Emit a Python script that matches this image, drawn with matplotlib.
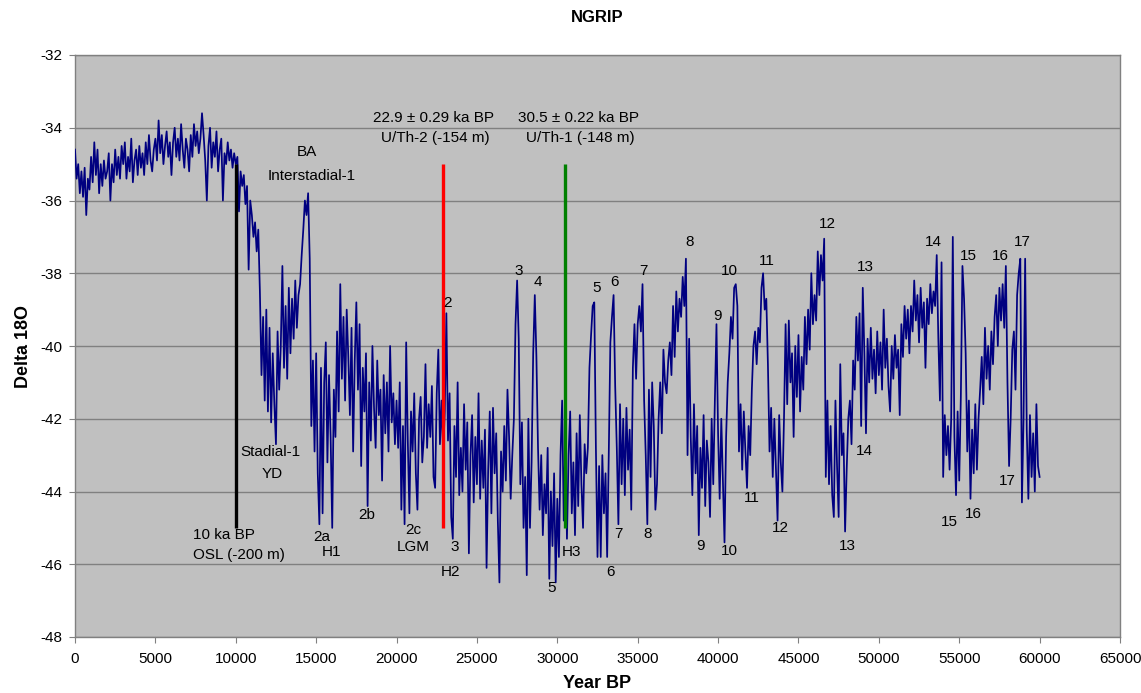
import numpy as np
import matplotlib
matplotlib.use('Agg')
import matplotlib.pyplot as plt

# NGRIP delta 18O, every 100 years from 0 to 60000 yr BP
year_start, year_end, year_step = 0, 60000, 100
delta_18o = [
    -34.6, -35.4, -35.0, -35.8, -35.2, -35.9, -35.1, -36.4, -35.4, -35.7,
    -34.8, -35.5, -34.4, -35.3, -34.6, -35.8, -35.0, -35.6, -34.9, -35.4,
    -35.2, -34.7, -36.0, -35.0, -35.5, -34.6, -35.3, -34.8, -35.4, -34.5,
    -35.0, -34.4, -35.4, -34.8, -35.2, -34.3, -35.5, -34.9, -34.6, -35.3,
    -34.5, -35.1, -34.7, -35.3, -34.4, -35.0, -34.2, -34.9, -35.2, -34.6,
    -34.3, -34.9, -33.8, -34.7, -34.2, -35.0, -34.5, -34.1, -34.8, -34.4,
    -35.3, -34.4, -34.0, -34.8, -34.3, -34.9, -33.9, -34.6, -35.1, -34.3,
    -34.6, -35.2, -34.2, -34.8, -33.9, -34.5, -34.1, -34.7, -34.3, -33.6,
    -34.2, -34.9, -36.0, -34.5, -34.0, -35.1, -34.4, -34.8, -34.1, -35.2,
    -34.6, -34.3, -36.0, -34.7, -35.0, -34.4, -34.9, -34.6, -35.1, -34.7,
    -35.0, -34.8, -36.3, -35.2, -35.6, -35.3, -36.1, -35.6, -37.9, -36.0,
    -36.4, -37.0, -36.6, -37.4, -36.8, -38.5, -40.8, -39.2, -41.5, -39.0,
    -41.8, -39.5, -42.1, -40.2, -41.6, -42.7, -39.6, -41.2, -40.0, -37.8,
    -40.6, -38.9, -40.9, -38.4, -40.2, -38.7, -39.8, -38.2, -39.5, -38.6,
    -38.3, -37.5, -36.8, -36.0, -36.4, -35.8, -37.6, -42.2, -40.4, -42.9,
    -40.2, -43.5, -44.9, -40.6, -44.6, -41.0, -39.9, -43.2, -40.8, -42.5,
    -45.0, -41.2, -42.5, -39.6, -41.8, -38.3, -40.9, -39.2, -41.5, -39.0,
    -40.3, -41.9, -39.5, -42.9, -40.4, -38.8, -41.2, -39.4, -43.3, -40.6,
    -41.8, -40.2, -44.4, -41.0, -42.6, -40.0, -41.7, -42.8, -40.4, -41.9,
    -41.2, -43.7, -40.8, -42.4, -41.0, -42.9, -40.0, -42.1, -41.3, -42.7,
    -41.5, -42.8, -41.0, -44.5, -42.2, -44.9, -39.9, -42.6, -44.6, -41.8,
    -42.9, -41.3, -43.5, -44.5, -42.0, -41.4, -43.2, -42.5, -40.5, -42.8,
    -41.6, -42.5, -41.1, -43.6, -43.9, -41.3, -40.1, -42.7, -41.5, -43.0,
    -41.8, -39.1, -42.6, -41.3, -44.7, -45.3, -42.2, -43.6, -41.0, -44.1,
    -42.8, -44.0, -41.6, -43.4, -42.1, -45.7, -43.0, -41.9, -44.3, -42.5,
    -43.8, -41.3, -44.2, -42.6, -43.9, -42.3, -46.1, -43.4, -41.8, -44.6,
    -41.7, -43.5, -42.4, -44.8, -46.5, -42.9, -44.0, -42.2, -43.7, -41.2,
    -42.5, -44.2, -43.0, -42.0, -39.4, -38.2, -39.8, -43.8, -42.1, -45.0,
    -43.6, -46.3, -42.0, -45.0, -43.2, -40.2, -38.6, -40.3, -42.8, -44.5,
    -43.0, -45.2, -43.8, -44.6, -42.8, -46.4, -44.0, -45.5, -43.5, -46.5,
    -44.2, -45.8, -43.0, -41.5, -44.8, -42.6, -45.3, -43.0, -41.8, -44.6,
    -43.2, -45.2, -42.4, -44.4, -41.9, -43.8, -45.0, -42.7, -43.5, -42.8,
    -40.6, -39.7, -38.9, -38.8, -42.8, -45.8, -43.3, -45.8, -43.0, -44.6,
    -43.5, -45.8, -43.0, -39.9, -39.2, -38.6, -41.1, -42.8, -44.9, -41.6,
    -43.8, -42.0, -44.1, -41.7, -43.4, -42.3, -44.5, -40.6, -39.4, -40.9,
    -39.4, -38.9, -39.6, -38.3, -41.5, -43.0, -44.9, -41.2, -43.6, -41.0,
    -42.2, -44.5, -43.8, -42.0, -41.0, -42.4, -40.1, -41.0, -41.3, -40.4,
    -39.9, -40.8, -38.9, -40.3, -38.5, -39.6, -38.7, -39.2, -38.1, -38.9,
    -37.6, -43.0, -39.8, -42.5, -44.1, -41.6, -43.5, -42.2, -45.2, -42.8,
    -43.9, -41.9, -44.4, -42.6, -43.2, -44.7, -42.0, -43.8, -41.5, -39.4,
    -42.4, -44.2, -42.0, -43.7, -45.4, -42.5, -41.0, -40.2, -39.2, -39.8,
    -38.4, -38.3, -38.9, -42.9, -41.6, -43.4, -41.8, -42.9, -43.9, -42.2,
    -43.0, -41.2, -40.0, -39.6, -40.5, -39.5, -39.9, -38.4, -38.0, -39.0,
    -38.7, -40.5, -42.9, -41.7, -43.6, -42.0, -43.4, -44.8, -41.9, -43.2,
    -44.0, -42.0, -39.4, -41.6, -39.3, -41.0, -40.2, -42.5, -40.0, -41.4,
    -39.7, -41.8, -40.3, -41.2, -39.2, -40.5, -39.0, -40.1, -38.0, -39.4,
    -38.6, -39.3, -37.4, -38.6, -37.5, -38.2, -37.05, -43.6, -41.5, -43.8,
    -42.2, -44.1, -44.7, -41.5, -43.3, -44.7, -40.5, -43.0, -42.4, -45.1,
    -43.4, -42.0, -41.5, -42.7, -40.4, -41.2, -39.2, -40.4, -39.1, -42.2,
    -38.4, -40.2, -42.4, -39.8, -41.0, -39.5, -40.9, -40.1, -41.3, -39.6,
    -40.8, -39.9, -41.2, -39.0, -40.6, -39.8, -41.1, -41.8, -40.0, -40.9,
    -39.7, -40.6, -40.1, -41.9, -39.4, -40.3, -38.9, -39.8, -39.0, -40.2,
    -38.9, -39.6, -38.2, -39.3, -38.6, -39.9, -38.4, -39.5, -38.8, -40.6,
    -38.7, -39.4, -38.3, -39.1, -38.5, -38.9, -37.5, -39.8, -41.5, -37.7,
    -43.6, -41.9, -43.0, -42.2, -43.4, -42.0, -37.0, -42.5, -44.1, -41.8,
    -43.7, -41.4, -37.8, -38.7, -40.2, -42.9, -41.5, -44.2, -42.3, -43.5,
    -41.6, -43.4, -42.0, -41.2, -40.3, -41.6, -39.5, -40.9, -40.0, -41.2,
    -39.6, -40.5, -39.2, -38.6, -40.0, -38.4, -39.3, -38.3, -39.5, -37.8,
    -41.0, -43.3, -42.0, -40.1, -39.6, -41.2, -38.6, -38.0, -37.6, -44.3,
    -42.0, -37.6, -42.3, -44.2, -41.9, -43.6, -42.4, -44.0, -41.6, -43.3,
    -43.6,
]
year_bp = np.arange(year_start, year_end + 1, year_step)

# dated markers (year BP) drawn as vertical bars from -45 to -35
marker_years = [10000, 22900, 30500]
marker_colors = ['black', 'red', 'green']
marker_low, marker_high = -45, -35

# interstadial / stadial numbers and event names: (text, year, delta)
event_labels = [
    ('2a', 15370, -45.25), ('H1', 15930, -45.66), ('2b', 18170, -44.65),
    ('2c', 21030, -45.06), ('LGM', 21030, -45.53),
    ('2', 23150, -38.82), ('3', 23590, -45.53), ('H2', 23340, -46.21),
    ('3', 27570, -37.94), ('4', 28810, -38.24), ('5', 29620, -46.65),
    ('5', 32420, -38.41), ('6', 33540, -38.24), ('7', 35350, -37.94),
    ('H3', 30870, -45.66), ('6', 33290, -46.21), ('7', 33790, -45.17),
    ('8', 35600, -45.17), ('8', 38210, -37.14), ('9', 39950, -39.18),
    ('10', 40700, -37.94), ('11', 43060, -37.66), ('9', 38890, -45.5),
    ('10', 40700, -45.64), ('11', 42070, -44.18), ('12', 43870, -45.0),
    ('12', 46800, -36.65), ('13', 49160, -37.83), ('14', 49100, -42.89),
    ('13', 48040, -45.5), ('14', 53390, -37.14), ('15', 55570, -37.53),
    ('16', 57560, -37.53), ('17', 58930, -37.14), ('15', 54390, -44.84),
    ('16', 55880, -44.62), ('17', 58000, -43.71),
    ('BA', 14440, -34.67), ('Interstadial-1', 14750, -35.33),
    ('Stadial-1', 12130, -42.91), ('YD', 12250, -43.52),
    ('22.9 \u00b1 0.29 ka BP', 22280, -33.73), ('U/Th-2 (-154 m)', 22410, -34.28),
    ('30.5 \u00b1 0.22 ka BP', 31300, -33.73), ('U/Th-1 (-148 m)', 31430, -34.28),
]
# left aligned note under the 10 ka marker
osl_note = [('10 ka BP', 7340, -45.2), ('OSL (-200 m)', 7340, -45.75)]

plt.rcParams['font.family'] = ['Liberation Sans', 'DejaVu Sans']
plt.rcParams['axes.unicode_minus'] = False

fig = plt.figure(figsize=(11.41, 6.93), dpi=100)
ax = fig.add_axes([75 / 1141, 1 - 637 / 693, 1045 / 1141, 582 / 693])
ax.set_facecolor('#c0c0c0')

ax.plot(year_bp, delta_18o, color='#000080', lw=1.25, zorder=3)
for yr, col in zip(marker_years, marker_colors):
    ax.plot([yr, yr], [marker_low, marker_high], color=col, lw=2.4, zorder=4,
            solid_capstyle='butt')

for txt, yr, val in event_labels:
    ax.text(yr, val, txt, ha='center', va='center', fontsize=11, zorder=5)
for txt, yr, val in osl_note:
    ax.text(yr, val, txt, ha='left', va='center', fontsize=11, zorder=5)

ax.set_xlim(0, 65000)
ax.set_ylim(-48, -32)
ax.set_xticks(np.arange(0, 65001, 5000))
ax.set_yticks(np.arange(-48, -31, 2))
ax.yaxis.grid(True, color='#808080', lw=1)
ax.set_axisbelow(True)
for sp in ax.spines.values():
    sp.set_color('#808080')
    sp.set_linewidth(1)
ax.tick_params(axis='both', direction='out', length=4, color='#808080',
               labelsize=11)
ax.tick_params(axis='x', pad=7)
ax.tick_params(axis='y', pad=5)

fig.text(597 / 1141, 1 - 18 / 693, 'NGRIP', ha='center', va='center',
         fontsize=12, fontweight='bold')
fig.text(597 / 1141, 1 - 683 / 693, 'Year BP', ha='center', va='center',
         fontsize=13, fontweight='bold')
fig.text(23 / 1141, 1 - 346 / 693, 'Delta 18O', ha='center', va='center',
         rotation=90, fontsize=13, fontweight='bold')

fig.savefig('out.png', dpi=100)
